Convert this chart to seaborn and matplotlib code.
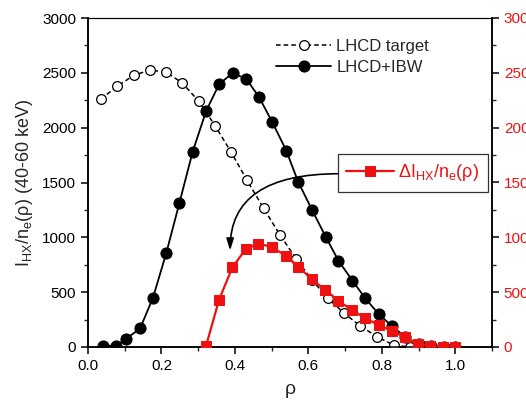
import matplotlib
matplotlib.use("Agg")
import matplotlib.pyplot as plt
import seaborn as sns
import pandas as pd
from matplotlib.ticker import MultipleLocator, FormatStrFormatter

# ---- data ----
rho_target = [0.035, 0.080, 0.124, 0.170, 0.213, 0.256, 0.301, 0.346, 0.390, 0.433,
              0.478, 0.523, 0.567, 0.610, 0.653, 0.698, 0.741, 0.787, 0.832, 0.876,
              0.920, 0.963]
val_target = [2262, 2377, 2477, 2526, 2505, 2410, 2243, 2018, 1775, 1520,
              1265, 1021, 803, 611, 444, 307, 192, 94, 18, 0,
              0, 0]

rho_ibw = [0.040, 0.076, 0.104, 0.142, 0.177, 0.213, 0.249, 0.285, 0.322, 0.357,
           0.394, 0.431, 0.465, 0.502, 0.540, 0.572, 0.610, 0.647, 0.682, 0.720,
           0.755, 0.791, 0.827, 0.864, 0.900, 0.935, 0.970, 1.000]
val_ibw = [10, 12, 75, 170, 450, 855, 1315, 1781, 2155, 2396,
           2499, 2444, 2283, 2049, 1790, 1508, 1250, 1006, 787, 605,
           444, 302, 192, 90, 25, 5, 0, 0]

rho_delta = [0.321, 0.357, 0.393, 0.429, 0.464, 0.501, 0.538, 0.573, 0.609, 0.646,
             0.682, 0.719, 0.755, 0.791, 0.827, 0.864, 0.898, 0.932, 0.966, 1.000]
val_delta = [5, 432, 725, 892, 942, 912, 832, 733, 618, 520,
             420, 337, 262, 201, 146, 88, 27, 5, 3, 3]

label_target = "LHCD target"
label_ibw = "LHCD+IBW"
label_delta = r"ΔI$_{\mathrm{HX}}$/n$_{\mathrm{e}}$(ρ)"
ylabel = r"I$_{\mathrm{HX}}$/n$_{\mathrm{e}}$(ρ) (40-60 keV)"
xlabel = "ρ"

df_t = pd.DataFrame({"rho": rho_target, "val": val_target})
df_i = pd.DataFrame({"rho": rho_ibw, "val": val_ibw})
df_d = pd.DataFrame({"rho": rho_delta, "val": val_delta})

sns.set_style("ticks")
plt.rcParams["font.family"] = ["Liberation Sans", "DejaVu Sans"]
plt.rcParams["mathtext.fontset"] = "custom"
plt.rcParams["mathtext.rm"] = "Liberation Sans"
plt.rcParams["mathtext.it"] = "Liberation Sans:italic"
plt.rcParams["mathtext.bf"] = "Liberation Sans:bold"

RED = "#ee1111"

fig = plt.figure(figsize=(5.26, 4.04), dpi=100)
ax = fig.add_axes([88/526, 1-347/404, (492-88)/526, (347-18)/404])

sns.lineplot(data=df_t, x="rho", y="val", ax=ax, color="black", sort=False,
             linestyle=(0, (3, 2)), linewidth=1.1, marker="o", markersize=7,
             markerfacecolor="white", markeredgecolor="black", markeredgewidth=0.9,
             label=label_target, zorder=3)
sns.lineplot(data=df_i, x="rho", y="val", ax=ax, color="black", sort=False,
             linewidth=1.3, marker="o", markersize=8,
             markerfacecolor="black", markeredgecolor="black",
             label=label_ibw, zorder=4)

ax.set_xlim(0, 1.1)
ax.set_ylim(0, 3000)
ax.xaxis.set_major_locator(MultipleLocator(0.2))
ax.xaxis.set_minor_locator(MultipleLocator(0.1))
ax.yaxis.set_major_locator(MultipleLocator(500))
ax.yaxis.set_minor_locator(MultipleLocator(250))
ax.xaxis.set_major_formatter(FormatStrFormatter("%.1f"))
ax.tick_params(which="major", direction="out", length=5, width=1.1, labelsize=11, colors="black")
ax.tick_params(which="minor", direction="out", length=3, width=1.0)
ax.tick_params(axis="x", which="both", top=False)
ax.set_xlabel(xlabel, fontsize=14, labelpad=6)
ax.set_ylabel(ylabel, fontsize=13, labelpad=5)
for s in ax.spines.values():
    s.set_linewidth(1.1)
    s.set_color("black")
ax.spines["top"].set_linewidth(0.8)

leg1 = ax.legend(loc="upper left", bbox_to_anchor=(273/526, 1-36/404),
                 bbox_transform=fig.transFigure, frameon=False, fontsize=12,
                 handlelength=3.3, handletextpad=0.3, labelspacing=0.35,
                 borderaxespad=0, borderpad=0.2)

ax2 = ax.twinx()
sns.lineplot(data=df_d, x="rho", y="val", ax=ax2, color=RED, sort=False,
             linewidth=1.6, marker="s", markersize=7, markerfacecolor=RED,
             markeredgecolor=RED, label=label_delta, zorder=5)
ax2.set_ylim(0, 3000)
ax2.set_ylabel("")
ax2.yaxis.set_major_locator(MultipleLocator(500))
ax2.yaxis.set_minor_locator(MultipleLocator(250))
ax2.tick_params(which="major", direction="out", length=5, width=1.1, labelsize=11,
                colors="black", labelcolor=RED)
ax2.tick_params(which="minor", direction="out", length=3, width=1.0)
for s in ax2.spines.values():
    s.set_linewidth(1.1)
    s.set_color("black")
ax2.spines["top"].set_linewidth(0.8)

leg2 = ax2.legend(loc="center left", bbox_to_anchor=(338/526, 1-173/404),
                  bbox_transform=fig.transFigure, frameon=True, fancybox=False,
                  fontsize=13, handlelength=2.65, handletextpad=0.25,
                  borderpad=0.45, borderaxespad=0)
leg2.get_frame().set_edgecolor("black")
leg2.get_frame().set_linewidth(0.9)
for t in leg2.get_texts():
    t.set_color(RED)

ax2.annotate("", xy=(0.387, 880), xytext=(0.683, 1580), xycoords="data",
             textcoords="data",
             arrowprops=dict(arrowstyle="-|>,head_length=0.7,head_width=0.22",
                             color="black", lw=1.2, shrinkA=0, shrinkB=0,
                             connectionstyle="angle3,angleA=0,angleB=90"),
             zorder=2)

fig.savefig("out.png", dpi=100)
